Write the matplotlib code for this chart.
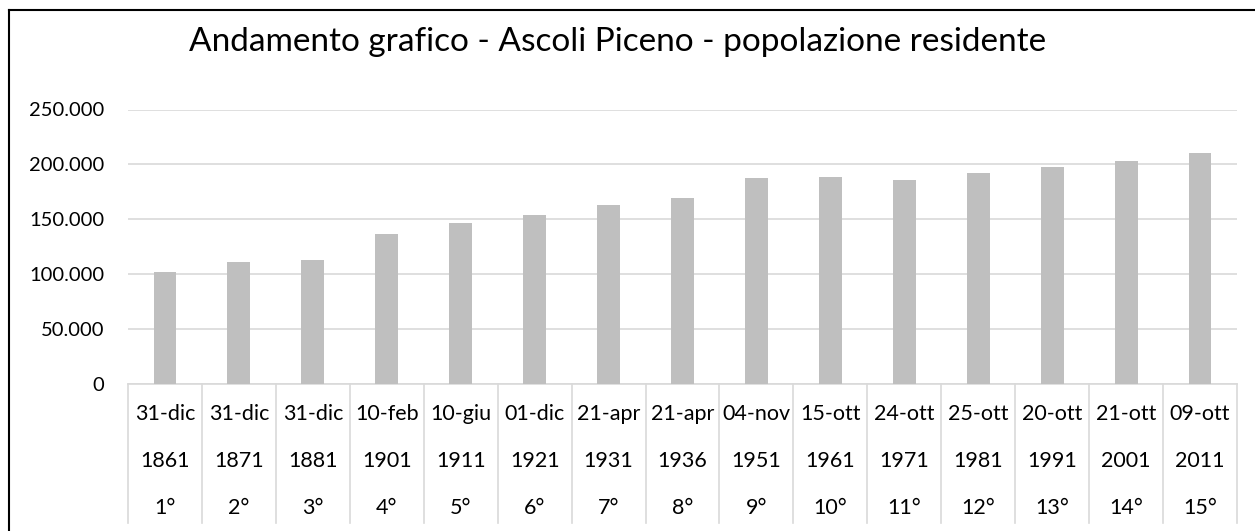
import numpy as np
import matplotlib
matplotlib.use('Agg')
from matplotlib import pyplot as plt
from matplotlib.lines import Line2D
from matplotlib.ticker import FuncFormatter

plt.rcParams['font.family'] = ['Lato', 'DejaVu Sans']

# dati del censimento
dates = ['31-dic', '31-dic', '31-dic', '10-feb', '10-giu', '01-dic', '21-apr', '21-apr',
         '04-nov', '15-ott', '24-ott', '25-ott', '20-ott', '21-ott', '09-ott']
years = ['1861', '1871', '1881', '1901', '1911', '1921', '1931', '1936',
         '1951', '1961', '1971', '1981', '1991', '2001', '2011']
ordinals = ['1°', '2°', '3°', '4°', '5°', '6°', '7°', '8°',
            '9°', '10°', '11°', '12°', '13°', '14°', '15°']
population = [101700, 110800, 113200, 136900, 146400, 153900, 163300, 169400,
              187300, 188200, 185800, 191900, 197600, 203100, 210400]

W, H = 1255, 531
fig = plt.figure(figsize=(W / 100, H / 100), dpi=100)
ax = fig.add_axes([128 / W, (H - 384) / H, (1237 - 128) / W, (384 - 109.5) / H])

x = np.arange(len(population))
ax.bar(x, population, width=0.31, color='#bfbfbf', zorder=3)
ax.set_xlim(-0.5, len(population) - 0.5)
ax.set_ylim(0, 250000)
ax.set_yticks(np.arange(0, 250001, 50000))
ax.yaxis.set_major_formatter(FuncFormatter(
    lambda v, p: '0' if v == 0 else f'{int(v):,}'.replace(',', '.')))
ax.tick_params(axis='y', length=0, pad=17, labelsize=14.5, colors='#000000')
ax.set_xticks([])
ax.grid(axis='y', color='#d9d9d9', linewidth=1.2, zorder=0)
for s in ['top', 'right', 'left']:
    ax.spines[s].set_visible(False)
ax.spines['bottom'].set_color('#d9d9d9')
ax.spines['bottom'].set_linewidth(1.2)

# asse delle categorie a tre livelli
tr = ax.get_xaxis_transform()
h_ax = 384 - 109.5
bottom = -(523 - 384) / h_ax
for i in range(len(population) + 1):
    ax.add_line(Line2D([i - 0.5, i - 0.5], [0, bottom], transform=tr,
                       color='#d9d9d9', linewidth=1.2, clip_on=False))
for i in x:
    ax.text(i, -(414 - 384) / h_ax, dates[i], transform=tr, ha='center', va='center', fontsize=15.5)
    ax.text(i, -(461 - 384) / h_ax, years[i], transform=tr, ha='center', va='center', fontsize=15.5)
    ax.text(i, -(508 - 384) / h_ax, ordinals[i], transform=tr, ha='center', va='center', fontsize=15.5)

fig.text(618 / W, 1 - 42 / H, 'Andamento grafico - Ascoli Piceno - popolazione residente',
         ha='center', va='center', fontsize=24)

# cornice del grafico
fig.add_artist(Line2D([9 / W, 9 / W], [1 - 10 / H, 0], transform=fig.transFigure,
                      color='black', linewidth=1.5))
fig.add_artist(Line2D([9 / W, 1], [1 - 10 / H, 1 - 10 / H], transform=fig.transFigure,
                      color='black', linewidth=1.5))

fig.savefig('out.png', dpi=100)
